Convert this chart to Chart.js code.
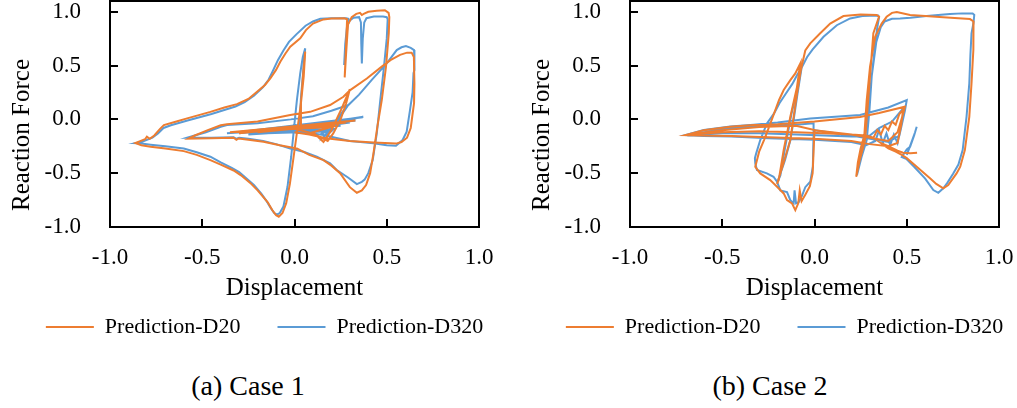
<!DOCTYPE html>
<html>
<head>
<meta charset="utf-8">
<script src="https://cdn.jsdelivr.net/npm/chart.js@4.4.1/dist/chart.umd.min.js"></script>
<style>
  body {
    margin: 0;
    width: 1017px;
    height: 408px;
    position: relative;
    overflow: hidden;
    background: #fff;
    font-family: "Liberation Serif", "Times New Roman", serif;
  }
  canvas { position: absolute; top: 0; }
  #chartCase1 { left: 0; }
  #chartCase2 { left: 510px; }
  .caption {
    position: absolute;
    top: 372px;
    width: 200px;
    text-align: center;
    font-size: 28px;
    line-height: 28px;
    color: #000;
  }
</style>
</head>
<body>
<canvas id="chartCase1" width="524" height="350"></canvas>
<canvas id="chartCase2" width="534" height="350"></canvas>
<div class="caption" id="caption1" style="left:148px"></div>
<div class="caption" id="caption2" style="left:670px"></div>

<script>
// Labels
const seriesNames = ["Prediction-D20", "Prediction-D320"];
const seriesColors = ["#ED7D31", "#5B9BD5"];
const captions = ["(a) Case 1", "(b) Case 2"];
const axisTicks = [-1.0, -0.5, 0.0, 0.5, 1.0];

// Case 1: [displacement, reaction force]
const case1D20 = [
  [0.00,-0.09],[0.22,-0.05],[-0.20,-0.12],[0.28,-0.03],[-0.30,-0.13],[0.33,-0.01],[-0.35,-0.12],[0.20,-0.07],[0.10,-0.12],
  [0.157,-0.21],[0.20,-0.10],[0.25,0.08],[0.30,0.28],[0.28,0.15],[0.25,0.00],[0.21,-0.13],[0.18,-0.20],[0.10,-0.13],
  [0.03,-0.10],[0.035,0.15],[0.048,0.45],[0.058,0.63],[0.05,0.40],[0.035,0.15],[0.015,-0.10],[-0.005,-0.35],[-0.025,-0.60],[-0.045,-0.78],[-0.065,-0.87],
  [-0.085,-0.905],[-0.10,-0.89],[-0.12,-0.845],[-0.145,-0.77],[-0.17,-0.72],[-0.20,-0.66],[-0.24,-0.59],[-0.29,-0.52],[-0.33,-0.475],[-0.40,-0.42],[-0.456,-0.378],[-0.53,-0.33],[-0.60,-0.295],[-0.70,-0.27],[-0.78,-0.255],[-0.83,-0.24],[-0.862,-0.22],
  [-0.84,-0.205],[-0.81,-0.185],[-0.80,-0.16],[-0.785,-0.18],[-0.76,-0.15],[-0.73,-0.09],[-0.708,-0.053],[-0.64,-0.02],[-0.582,0.009],[-0.456,0.07],[-0.38,0.11],[-0.312,0.142],[-0.25,0.19],[-0.203,0.257],[-0.16,0.32],[-0.131,0.381],[-0.10,0.46],[-0.077,0.535],[-0.05,0.61],[-0.023,0.675],[0.031,0.753],[0.062,0.83],[0.10,0.89],[0.157,0.929],[0.20,0.938],[0.27,0.94],
  [0.285,0.93],[0.28,0.70],[0.272,0.39],[0.28,0.62],[0.29,0.88],[0.31,0.95],[0.335,0.98],[0.355,0.99],[0.365,0.97],[0.375,0.98],[0.40,1.00],[0.446,1.01],[0.49,1.015],[0.51,0.99],
  [0.514,0.95],[0.511,0.80],[0.496,0.489],[0.473,0.18],[0.449,-0.069],[0.428,-0.316],[0.41,-0.50],[0.388,-0.61],[0.365,-0.66],[0.338,-0.682],
  [0.30,-0.63],[0.247,-0.50],[0.20,-0.43],[0.157,-0.378],[0.08,-0.33],[0.013,-0.27],[-0.08,-0.24],[-0.168,-0.208],[-0.25,-0.19],[-0.303,-0.177],[-0.315,-0.19],[-0.33,-0.171],[-0.45,-0.175],[-0.575,-0.18],
  [-0.54,-0.15],[-0.47,-0.10],[-0.40,-0.055],[-0.366,-0.045],[-0.20,-0.02],[-0.023,0.04],[0.085,0.07],[0.193,0.133],[0.265,0.21],[0.30,0.27],[0.392,0.38],[0.473,0.49],[0.52,0.55],[0.572,0.60],[0.61,0.62],[0.635,0.62],[0.647,0.58],[0.65,0.33],[0.648,0.15],[0.64,0.05],[0.63,-0.08],[0.61,-0.17],[0.58,-0.21],[0.55,-0.225],
  [0.43,-0.215],[0.30,-0.20],[0.17,-0.175],[0.08,-0.14],[0.00,-0.12]
];

const case1D320 = [
  [0.00,-0.10],[0.30,-0.03],[-0.30,-0.13],[0.37,0.02],[-0.366,-0.13],[0.25,-0.06],[-0.20,-0.12],[0.33,-0.01],[-0.10,-0.11],[0.22,-0.09],[-0.25,-0.14],[0.373,0.024],[0.10,-0.07],[-0.15,-0.13],[0.20,-0.11],
  [0.16,-0.16],[0.22,-0.03],[0.26,0.07],[0.29,0.13],[0.25,0.03],[0.20,-0.09],[0.14,-0.14],
  [0.025,-0.12],[0.035,0.20],[0.05,0.50],[0.058,0.66],[0.045,0.58],[0.031,0.427],[0.013,0.179],[-0.002,-0.069],[-0.018,-0.347],[-0.038,-0.626],[-0.06,-0.81],[-0.08,-0.87],
  [-0.095,-0.885],[-0.11,-0.87],[-0.13,-0.82],[-0.155,-0.75],[-0.18,-0.69],[-0.22,-0.61],[-0.26,-0.55],[-0.30,-0.49],[-0.34,-0.45],[-0.40,-0.40],[-0.456,-0.347],[-0.53,-0.305],[-0.60,-0.27],[-0.70,-0.25],[-0.78,-0.235],[-0.83,-0.225],[-0.862,-0.222],
  [-0.83,-0.21],[-0.80,-0.19],[-0.77,-0.17],[-0.74,-0.13],[-0.71,-0.08],[-0.67,-0.055],[-0.58,-0.01],[-0.45,0.05],[-0.32,0.12],[-0.27,0.16],[-0.22,0.22],[-0.17,0.30],[-0.14,0.37],[-0.12,0.44],[-0.09,0.55],[-0.06,0.64],[-0.03,0.72],[0.01,0.79],[0.06,0.87],[0.10,0.91],[0.14,0.935],[0.20,0.94],[0.28,0.94],[0.292,0.935],
  [0.28,0.75],[0.269,0.505],[0.275,0.70],[0.285,0.87],[0.30,0.92],[0.32,0.945],[0.35,0.95],[0.36,0.90],[0.362,0.70],[0.365,0.52],[0.37,0.75],[0.378,0.90],[0.39,0.94],[0.43,0.955],[0.48,0.955],[0.50,0.95],[0.505,0.93],
  [0.50,0.75],[0.485,0.489],[0.465,0.18],[0.446,-0.13],[0.424,-0.378],[0.40,-0.50],[0.38,-0.56],[0.365,-0.58],[0.338,-0.601],
  [0.29,-0.54],[0.229,-0.471],[0.193,-0.409],[0.121,-0.347],[0.049,-0.301],[-0.023,-0.27],[-0.10,-0.23],[-0.17,-0.20],[-0.25,-0.18],[-0.30,-0.17],[-0.315,-0.18],[-0.33,-0.165],[-0.45,-0.17],[-0.582,-0.171],
  [-0.55,-0.155],[-0.48,-0.12],[-0.40,-0.07],[-0.366,-0.053],[-0.20,-0.035],[-0.02,0.00],[0.10,0.03],[0.20,0.08],[0.292,0.133],[0.35,0.23],[0.42,0.37],[0.50,0.52],[0.554,0.644],[0.58,0.67],[0.604,0.681],[0.63,0.665],[0.648,0.644],[0.65,0.458],[0.645,0.43],[0.64,0.25],[0.626,0.086],[0.608,-0.115],[0.586,-0.192],[0.55,-0.245],
  [0.50,-0.24],[0.428,-0.223],[0.30,-0.20],[0.157,-0.146],[0.05,-0.12]
];

// Case 2
const case2D20 = [
  [0.00,-0.10],[0.20,-0.14],[0.40,-0.20],[0.45,-0.12],[0.48,0.05],[0.49,0.118],[0.35,0.06],[0.247,0.022],[0.00,-0.02],[-0.20,-0.045],[-0.33,-0.053],[-0.456,-0.069],[-0.60,-0.10],[-0.70,-0.146],[-0.60,-0.15],[-0.45,-0.155],[-0.25,-0.165],[0.00,-0.18],[0.20,-0.20],[0.30,-0.23],[0.40,-0.25],[0.45,-0.22],[0.47,-0.05],[0.48,0.09],[0.46,0.05],[0.44,-0.05],[0.42,-0.02],[0.40,-0.10],[0.38,-0.06],[0.36,-0.14],[0.34,-0.10],[0.32,-0.17],[0.28,-0.15],[0.20,-0.14],[0.05,-0.13],[-0.10,-0.12],[-0.30,-0.11],[-0.50,-0.12],[-0.68,-0.14],[-0.50,-0.10],[-0.30,-0.07],[-0.10,-0.06],[0.00,-0.10],
  [-0.005,-0.30],[-0.01,-0.50],[-0.025,-0.62],[-0.05,-0.70],[-0.07,-0.76],[-0.08,-0.66],[-0.088,-0.78],[-0.104,-0.843],[-0.122,-0.78],[-0.149,-0.75],[-0.167,-0.688],[-0.203,-0.626],[-0.24,-0.564],[-0.294,-0.502],[-0.321,-0.44],
  [-0.30,-0.30],[-0.273,-0.19],[-0.246,-0.069],[-0.219,0.056],[-0.192,0.18],[-0.167,0.273],[-0.131,0.365],[-0.104,0.427],[-0.077,0.52],
  [-0.095,0.30],[-0.131,0.025],[-0.167,-0.285],[-0.194,-0.564],[-0.203,-0.60],
  [-0.167,-0.40],[-0.131,-0.19],[-0.113,0.025],[-0.095,0.24],[-0.075,0.45],[-0.05,0.64],[-0.023,0.706],[0.031,0.80],[0.085,0.89],[0.157,0.96],[0.25,0.975],[0.337,0.97],
  [0.35,0.955],[0.319,0.80],[0.305,0.49],[0.287,0.087],[0.274,-0.193],[0.245,-0.38],[0.226,-0.533],[0.235,-0.40],[0.25,-0.27],[0.27,-0.15],
  [0.283,0.18],[0.301,0.49],[0.329,0.768],[0.364,0.89],[0.391,0.953],[0.42,0.99],[0.446,0.998],[0.518,0.97],[0.60,0.96],[0.698,0.948],[0.78,0.94],[0.843,0.932],[0.862,0.91],
  [0.862,0.80],[0.86,0.644],[0.851,0.335],[0.839,0.024],[0.815,-0.285],[0.79,-0.44],[0.77,-0.502],[0.725,-0.61],[0.698,-0.641],
  [0.66,-0.60],[0.626,-0.548],[0.554,-0.439],[0.50,-0.36],[0.473,-0.33],[0.44,-0.30],[0.40,-0.27],[0.36,-0.22],[0.40,-0.25],[0.45,-0.29],[0.48,-0.31],[0.52,-0.315],[0.556,-0.31]
];

const case2D320 = [
  [0.00,-0.10],[0.20,-0.15],[0.40,-0.21],[0.46,-0.15],[0.49,0.08],[0.50,0.18],[0.40,0.11],[0.247,0.04],[-0.023,0.009],[-0.20,-0.03],[-0.33,-0.05],[-0.456,-0.065],[-0.60,-0.099],[-0.70,-0.146],[-0.60,-0.155],[-0.45,-0.16],[-0.25,-0.175],[0.00,-0.19],[0.20,-0.21],[0.28,-0.24],[0.33,-0.20],[0.35,-0.10],[0.37,-0.22],[0.39,-0.13],[0.41,-0.24],[0.43,-0.14],[0.45,-0.22],[0.47,-0.05],[0.49,0.12],[0.47,0.08],[0.42,-0.02],[0.35,-0.08],[0.30,-0.15],[0.20,-0.16],[0.05,-0.15],[-0.10,-0.14],[-0.30,-0.13],[-0.50,-0.13],[-0.69,-0.15],[-0.50,-0.09],[-0.30,-0.06],[-0.10,-0.05],[-0.005,-0.037],
  [-0.005,-0.13],[-0.009,-0.44],[-0.023,-0.58],[-0.05,-0.63],[-0.068,-0.71],[-0.086,-0.77],[-0.10,-0.78],[-0.108,-0.66],[-0.113,-0.78],[-0.131,-0.75],[-0.149,-0.675],[-0.185,-0.66],[-0.203,-0.58],[-0.222,-0.533],[-0.258,-0.502],[-0.312,-0.471],[-0.321,-0.409],[-0.323,-0.36],[-0.316,-0.316],[-0.294,-0.192],[-0.258,-0.037],
  [-0.219,0.056],[-0.19,0.15],[-0.155,0.24],[-0.12,0.33],[-0.095,0.41],[-0.077,0.46],[-0.068,0.50],
  [-0.09,0.30],[-0.125,0.05],[-0.16,-0.27],[-0.185,-0.52],[-0.20,-0.58],
  [-0.16,-0.38],[-0.13,-0.19],[-0.11,0.03],[-0.092,0.24],[-0.07,0.48],[-0.04,0.58],[-0.01,0.65],[0.049,0.768],[0.121,0.875],[0.193,0.938],[0.26,0.96],[0.345,0.965],
  [0.35,0.95],[0.34,0.85],[0.329,0.706],[0.31,0.396],[0.298,0.087],[0.283,-0.193],[0.255,-0.35],[0.23,-0.52],[0.24,-0.42],[0.26,-0.25],[0.275,-0.12],
  [0.29,0.05],[0.31,0.40],[0.335,0.72],[0.36,0.86],[0.38,0.91],[0.42,0.935],[0.464,0.938],[0.52,0.945],[0.608,0.96],[0.67,0.97],[0.734,0.979],[0.80,0.985],[0.857,0.985],[0.866,0.97],
  [0.862,0.90],[0.851,0.80],[0.845,0.60],[0.839,0.335],[0.824,0.024],[0.803,-0.285],[0.78,-0.42],[0.752,-0.502],[0.72,-0.59],[0.698,-0.641],[0.671,-0.682],[0.644,-0.657],
  [0.60,-0.55],[0.54,-0.44],[0.50,-0.37],[0.473,-0.35],[0.50,-0.28],[0.518,-0.255],[0.54,-0.15],[0.554,-0.069],[0.545,-0.12],[0.52,-0.24],[0.50,-0.33]
];

const FONT_FAMILY = "'Liberation Serif', 'Times New Roman', serif";
const TICK_LEN = 8;

const toPoints = (pairs) => pairs.map(([x, y]) => ({ x, y }));

// Frame round the plot area, inward tick marks, and the y title
// (drawn here so it sits where the original has it)
const framePlugin = {
  id: "frame",
  afterDraw(chart, args, opts) {
    const { ctx, chartArea } = chart;
    const xScale = chart.scales.x;
    const yScale = chart.scales.y;
    ctx.save();
    ctx.strokeStyle = "#000";
    ctx.lineWidth = 2;
    ctx.strokeRect(chartArea.left, chartArea.top, chartArea.right - chartArea.left, chartArea.bottom - chartArea.top);

    ctx.beginPath();
    axisTicks.forEach((v) => {
      const px = Math.round(xScale.getPixelForValue(v));
      ctx.moveTo(px, chartArea.bottom);
      ctx.lineTo(px, chartArea.bottom - TICK_LEN);
      const py = Math.round(yScale.getPixelForValue(v));
      ctx.moveTo(chartArea.left, py);
      ctx.lineTo(chartArea.left + TICK_LEN, py);
    });
    ctx.stroke();

    ctx.translate(opts.titleX, opts.titleY);
    ctx.rotate(-Math.PI / 2);
    ctx.font = "25px " + FONT_FAMILY;
    ctx.fillStyle = "#000";
    ctx.textAlign = "center";
    ctx.textBaseline = "middle";
    ctx.fillText(opts.title, 0, 0);
    ctx.restore();
  },
};

const setTicks = (scale) => {
  scale.ticks = axisTicks.map((v) => ({ value: v }));
};

const tickFont = { family: FONT_FAMILY, size: 23 };
const noGrid = { display: false, drawTicks: false };

function createCaseChart(canvasId, d20, d320, padLeft, titleX) {
  const ctx = document.getElementById(canvasId).getContext("2d");
  const line = (i, data) => ({
    label: seriesNames[i],
    data: toPoints(data),
    yAxisID: "y",
    borderColor: seriesColors[i],
    backgroundColor: seriesColors[i],
    borderWidth: 2,
    pointRadius: 0,
    pointHoverRadius: 0,
    showLine: true,
    tension: 0,
  });
  return new Chart(ctx, {
    type: "scatter",
    data: { datasets: [line(0, d20), line(1, d320)] },
    options: {
      responsive: false,
      animation: false,
      devicePixelRatio: 1,
      layout: { padding: { left: padLeft, right: 0, top: 1, bottom: 2 } },
      scales: {
        x: {
          type: "linear",
          min: -1,
          max: 1,
          afterBuildTicks: setTicks,
          afterFit: (scale) => {
            scale.height = 52;
            scale.paddingLeft = 0;
            scale.paddingRight = 0;
          },
          border: { display: false },
          grid: noGrid,
          ticks: { padding: 17, color: "#000", font: tickFont, callback: (v) => Number(v).toFixed(1) },
          title: {
            display: true,
            text: "Displacement",
            color: "#000",
            font: { family: FONT_FAMILY, size: 25 },
            padding: { top: 0, bottom: -24 },
          },
        },
        y: {
          type: "linear",
          min: -1,
          max: 1.1,
          afterBuildTicks: setTicks,
          afterFit: (scale) => {
            scale.width = 105;
            scale.paddingTop = 0;
            scale.paddingBottom = 0;
          },
          border: { display: false },
          grid: noGrid,
          ticks: { padding: 29, color: "#000", font: tickFont, callback: (v) => Number(v).toFixed(1) },
        },
        // empty right-hand box so the legend row can be wider than the plot
        yRight: {
          type: "linear",
          position: "right",
          min: -1,
          max: 1.1,
          afterFit: (scale) => {
            scale.width = 45;
            scale.paddingTop = 0;
            scale.paddingBottom = 0;
          },
          border: { display: false },
          grid: { display: false },
          ticks: { display: false },
        },
      },
      plugins: {
        legend: {
          position: "bottom",
          labels: {
            usePointStyle: true,
            pointStyle: "line",
            pointStyleWidth: 48,
            padding: 37,
            color: "#000",
            font: { family: FONT_FAMILY, size: 22 },
          },
        },
        tooltip: { enabled: false },
        frame: { title: "Reaction Force", titleX: titleX, titleY: 135 },
      },
    },
    plugins: [framePlugin],
  });
}

createCaseChart("chartCase1", case1D20, case1D320, 5, 22.6);
createCaseChart("chartCase2", case2D20, case2D320, 15, 32.6);

document.getElementById("caption1").textContent = captions[0];
document.getElementById("caption2").textContent = captions[1];
</script>
</body>
</html>
